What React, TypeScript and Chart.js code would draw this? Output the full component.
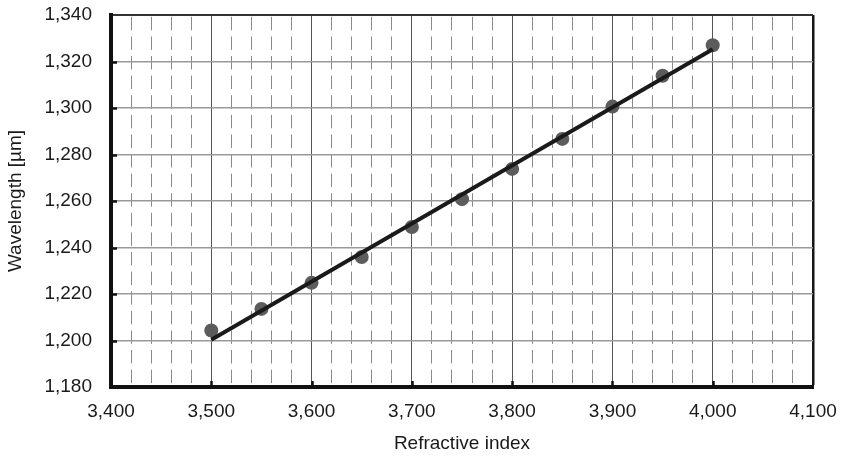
import React, { useEffect, useRef } from "react";
import { Chart, registerables } from "chart.js";

Chart.register(...registerables);

// Data
const refractiveIndex = [3500, 3550, 3600, 3650, 3700, 3750, 3800, 3850, 3900, 3950, 4000];
const wavelength = [1204.3, 1213.6, 1224.8, 1235.9, 1248.8, 1260.8, 1273.8, 1286.7, 1300.6, 1313.9, 1327.0];
const fitX = [3500, 4000];
const fitY = [1200.3, 1325.3];

const xRange = [3400, 4100];
const yRange = [1180, 1340];
const xStep = 20;
const xLabelStep = 100;
const yStep = 20;

const xTitle = "Refractive index";
const yTitle = "Wavelength [µm]";

const FONT = "'Liberation Sans', Arial, Helvetica, sans-serif";

const fmt = (v: number) => Math.round(v).toLocaleString("en-US");

const notchPlugin = {
  id: "notches",
  afterDraw(chart: any) {
    const { ctx, chartArea, scales } = chart;
    ctx.save();
    ctx.strokeStyle = "#111";
    ctx.lineWidth = 2.5;
    scales.y.ticks.forEach((t: any) => {
      if (t.value === yRange[0] || t.value === yRange[1]) return;
      const py = Math.round(scales.y.getPixelForValue(t.value)) + 0.5;
      ctx.beginPath();
      ctx.moveTo(chartArea.left, py);
      ctx.lineTo(chartArea.left + 6, py);
      ctx.stroke();
    });
    scales.x.ticks.forEach((t: any) => {
      const v = Math.round(t.value);
      if (v % xLabelStep !== 0 || v === xRange[0] || v === xRange[1]) return;
      const px = Math.round(scales.x.getPixelForValue(v)) + 0.5;
      ctx.beginPath();
      ctx.moveTo(px, chartArea.bottom);
      ctx.lineTo(px, chartArea.bottom - 6);
      ctx.stroke();
    });
    ctx.restore();
  },
};

export default function App() {
  const ref = useRef<HTMLCanvasElement | null>(null);

  useEffect(() => {
    if (!ref.current) return;
    const chart = new Chart(ref.current, {
      type: "scatter",
      data: {
        datasets: [
          {
            type: "line",
            data: fitX.map((x, i) => ({ x, y: fitY[i] })),
            borderColor: "#1a1a1a",
            borderWidth: 4,
            pointRadius: 0,
            fill: false,
            order: 0,
          } as any,
          {
            type: "scatter",
            data: refractiveIndex.map((x, i) => ({ x, y: wavelength[i] })),
            backgroundColor: "#5c5c5c",
            borderWidth: 0,
            pointRadius: 7,
            order: 1,
          },
        ],
      },
      options: {
        responsive: false,
        animation: false,
        layout: { padding: { top: 15, right: 28, bottom: 0, left: 0 } },
        plugins: { legend: { display: false }, tooltip: { enabled: false } },
        scales: {
          x: {
            type: "linear",
            min: xRange[0],
            max: xRange[1],
            afterFit: (s: any) => {
              s.height = 72;
              s.paddingLeft = 0;
              s.paddingRight = 0;
            },
            ticks: {
              stepSize: xStep,
              autoSkip: false,
              maxRotation: 0,
              minRotation: 0,
              padding: 13,
              color: "#1a1a1a",
              font: { family: FONT, size: 19 },
              callback: (v: any) => (Math.round(Number(v)) % xLabelStep === 0 ? fmt(Number(v)) : ""),
            },
            grid: {
              drawTicks: false,
              color: (c: any) => {
                const v = Math.round(c.tick?.value ?? 0);
                if (v === xRange[1]) return "#151515";
                if (v === xRange[0]) return "#111";
                return v % xLabelStep === 0 ? "#555" : "#8a8a8a";
              },
              lineWidth: (c: any) => {
                const v = Math.round(c.tick?.value ?? 0);
                if (v === xRange[1]) return 2.5;
                return 1;
              },
            },
            border: {
              display: true,
              color: "#111",
              width: 4,
              dash: (c: any) => {
                if (!c.tick) return [];
                const v = Math.round(c.tick.value);
                return v % xLabelStep === 0 ? [] : [13.5, 6.1];
              },
              dashOffset: 17.8,
            } as any,
            title: {
              display: true,
              text: xTitle,
              color: "#1a1a1a",
              font: { family: FONT, size: 19 },
              padding: { top: 0, bottom: 3.6 },
            },
          },
          y: {
            type: "linear",
            min: yRange[0],
            max: yRange[1],
            afterFit: (s: any) => {
              s.width = 111;
              s.paddingTop = 0;
              s.paddingBottom = 0;
            },
            ticks: {
              stepSize: yStep,
              padding: 19,
              color: "#1a1a1a",
              font: { family: FONT, size: 19 },
              callback: (v: any) => fmt(Number(v)),
            },
            grid: {
              drawTicks: false,
              color: (c: any) => {
                const v = Math.round(c.tick?.value ?? 0);
                if (v === yRange[1]) return "#333";
                return "#999";
              },
              lineWidth: (c: any) => {
                const v = Math.round(c.tick?.value ?? 0);
                if (v === yRange[1]) return 2;
                return 1.6;
              },
            },
            border: { display: true, color: "#111", width: 4 },
            title: {
              display: true,
              text: yTitle,
              color: "#1a1a1a",
              font: { family: FONT, size: 19 },
              padding: { top: 4.6, bottom: 0 },
            },
          },
        },
      },
      plugins: [notchPlugin],
    });
    return () => chart.destroy();
  }, []);

  return (
    <div style={{ position: "fixed", left: 0, top: 0, width: 841, height: 459, background: "#fff" }}>
      <canvas ref={ref} width={841} height={459} />
    </div>
  );
}
